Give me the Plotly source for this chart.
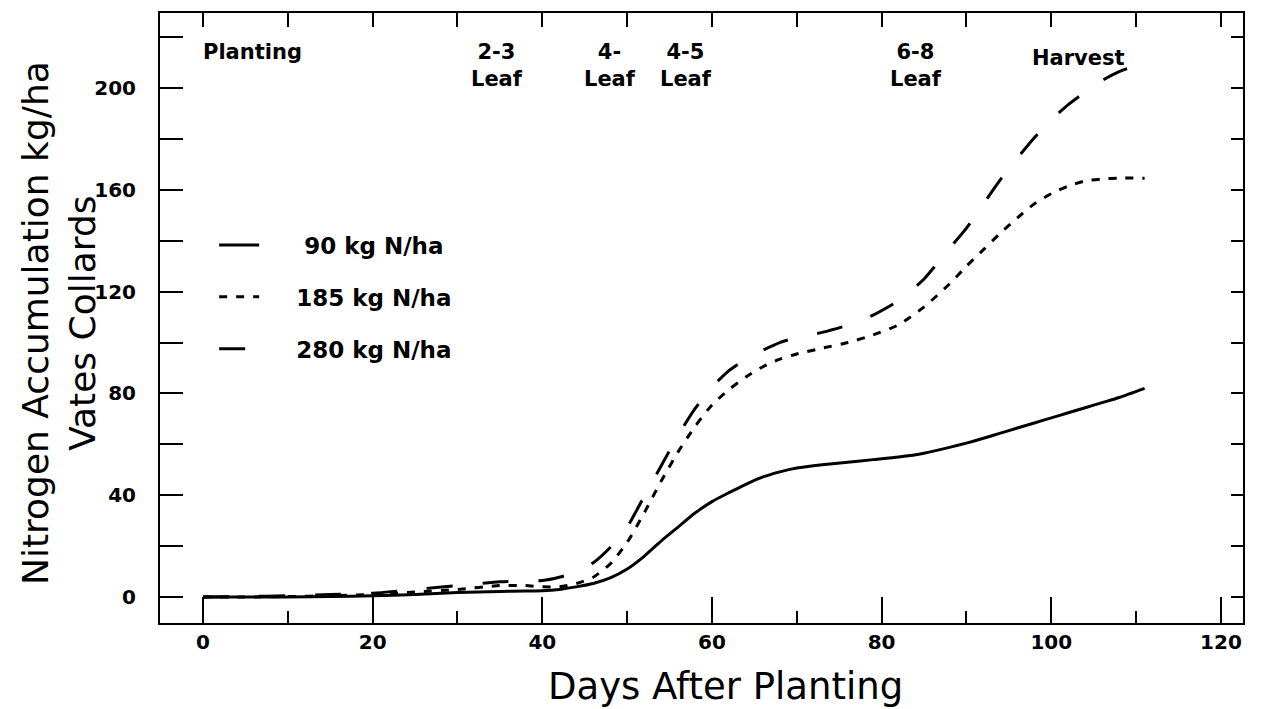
import plotly.graph_objects as go

days = [0, 5, 10, 15, 20, 25, 30, 35, 38, 40, 42, 44, 46, 48, 50, 52, 54, 56, 58, 60, 62, 64, 66, 68, 70,
        73, 76, 79, 82, 85, 88, 90, 92, 94, 96, 98, 100, 102, 104, 106, 108, 111]
n90 = [0, 0, 0, 0.2, 0.5, 1, 1.8, 2.2, 2.4, 2.5, 3.0, 4.0, 5.3, 7.5, 11, 16, 22, 27.5, 33, 37.5, 41, 44.3, 47.2, 49.2, 50.7,
       52, 53, 54, 55, 56.5, 58.8, 60.5, 62.4, 64.4, 66.4, 68.4, 70.4, 72.4, 74.4, 76.4, 78.4, 82]
n185 = [0, 0, 0.2, 0.5, 1, 2, 3, 4.5, 4.5, 4, 4, 5.3, 7.8, 13, 21.5, 33, 45.5, 57, 67, 75.5, 81.5, 86.5, 90.5, 93.5, 95.5,
        97.8, 100, 103, 107, 114, 123, 130, 136.5, 143, 149, 154.5, 158.5, 161.5, 163.5, 164.3, 164.6, 164.6]
n280 = [0, 0.2, 0.5, 1, 1.5, 3, 4.5, 6, 6.3, 6.5, 7.8, 9.8, 13.5, 19.5, 27.5, 39.5, 51.5, 63.5, 74, 82.5, 89, 93.5, 97, 100, 102,
        104, 106.8, 110.8, 116.5, 125, 137, 145, 154.5, 164, 172.5, 180.5, 187.5, 193.5, 198.5, 203, 206.5, 210]

series_names = ["\u00a0\u00a0\u00a0\u00a0\u00a090 kg N/ha", "\u00a0\u00a0\u00a0\u00a0185 kg N/ha", "\u00a0\u00a0\u00a0\u00a0280 kg N/ha"]
stage_labels = ["Planting", "2-3<br>Leaf", "4-<br>Leaf", "4-5<br>Leaf", "6-8<br>Leaf", "Harvest"]
stage_x = [5.8, 34.7, 48.0, 56.9, 84.0, 103.2]
stage_y = [214, 209, 209, 209, 209, 212]

x_ticks = [0, 20, 40, 60, 80, 100, 120]
y_ticks = [0, 40, 80, 120, 160, 200]

XR = [-5.07, 122.6]
YR = [-10.2, 229.5]

FONT = "DejaVu Sans"
BOLD = dict(family=FONT, size=20, color="black", weight="bold")

fig = go.Figure()
dashes = ["solid", "8px,9px", "26px,30px"]
for name, ys, dsh, grp in zip(series_names, [n90, n185, n280], dashes, ["a", "b", "c"]):
    fig.add_trace(go.Scatter(x=days, y=ys, mode="lines", name=name, legendgroup=grp,
                             line=dict(color="black", width=3, dash=dsh, shape="spline", smoothing=0.6)))

# empty trace so the top and right mirror axes get drawn
fig.add_trace(go.Scatter(x=[None], y=[None], xaxis="x2", yaxis="y2", showlegend=False, hoverinfo="skip"))

for lab, sx, sy in zip(stage_labels, stage_x, stage_y):
    fig.add_annotation(x=sx, y=sy, xref="x", yref="y", text=lab, showarrow=False,
                       font=dict(family=FONT, size=21, color="black", weight="bold"))

fig.add_annotation(x=0.0, y=0.5, xref="paper", yref="paper", xanchor="center", yanchor="middle",
                   xshift=-101, yshift=-5,
                   text="Nitrogen Accumulation kg/ha<br>Vates Collards", showarrow=False,
                   textangle=-90, font=dict(family=FONT, size=36, color="black"))
fig.add_annotation(x=0.5, y=0.0, xref="paper", yref="paper", xanchor="center", yanchor="middle",
                   xshift=24, yshift=-63,
                   text="Days After Planting", showarrow=False,
                   font=dict(family=FONT, size=37, color="black"))

fig.update_layout(
    width=1266, height=709,
    margin=dict(l=160, r=23, t=13, b=86),
    paper_bgcolor="white", plot_bgcolor="white",
    showlegend=True,
    legend=dict(x=0.05, y=0.655, xanchor="left", yanchor="top", bgcolor="rgba(0,0,0,0)",
                font=dict(family=FONT, size=23, color="black", weight="bold"),
                tracegroupgap=19, itemwidth=40),
    xaxis=dict(range=XR, tickvals=x_ticks, ticks="inside", ticklen=26, tickwidth=2, tickcolor="black",
               minor=dict(tick0=0, dtick=10, ticks="inside", ticklen=12, tickwidth=2, tickcolor="black"),
               showline=True, linewidth=2, linecolor="black", showgrid=False, zeroline=False,
               tickfont=BOLD, ticklabelstandoff=0),
    xaxis2=dict(range=XR, overlaying="x", side="top", anchor="y", tick0=0, dtick=10, ticks="inside", ticklen=14,
                tickwidth=2, tickcolor="black", showticklabels=False, showline=True, linewidth=2,
                linecolor="black", showgrid=False, zeroline=False),
    yaxis=dict(range=YR, tickvals=y_ticks, ticks="inside", ticklen=23, tickwidth=2, tickcolor="black",
               minor=dict(tick0=0, dtick=20, ticks="inside", ticklen=23, tickwidth=2, tickcolor="black"),
               showline=True, linewidth=2, linecolor="black", showgrid=False, zeroline=False,
               tickfont=BOLD, ticklabelstandoff=18),
    yaxis2=dict(range=YR, overlaying="y", side="right", anchor="x", tick0=0, dtick=20, ticks="inside", ticklen=12,
                tickwidth=2, tickcolor="black", showticklabels=False, showline=True, linewidth=2,
                linecolor="black", showgrid=False, zeroline=False),
)

fig.write_html("out.html")
